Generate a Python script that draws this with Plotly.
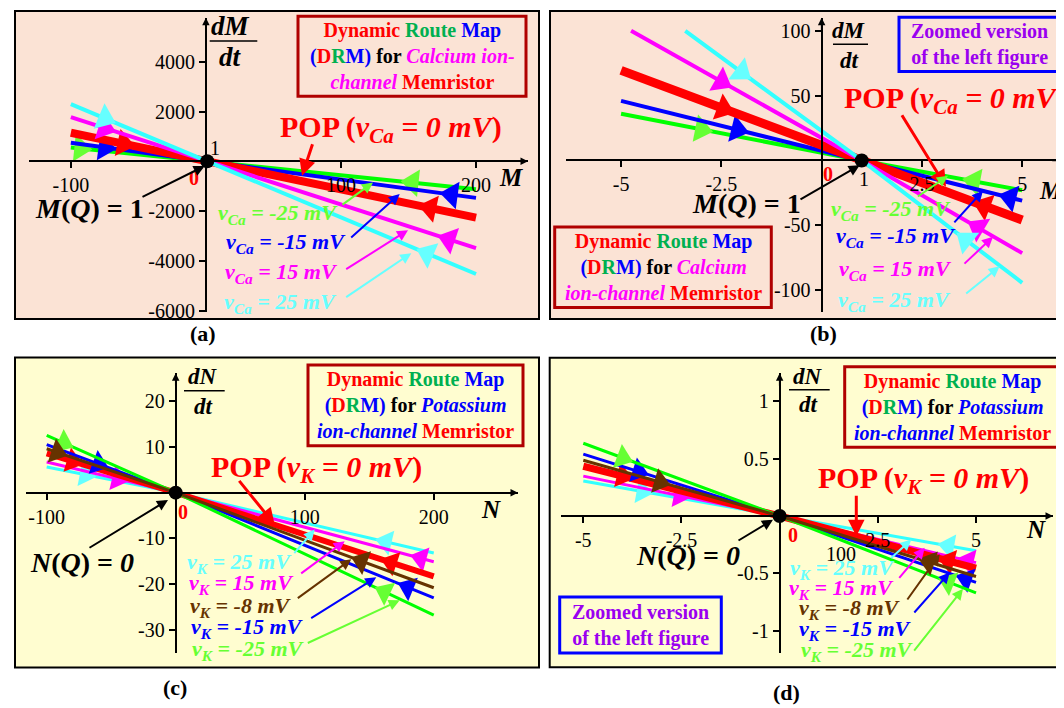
import numpy as np
import plotly.graph_objects as go

W, H = 1064, 708
def fx(px): return px / W
def fy(py): return 1 - py / H

# ------------------------- DATA -------------------------
# Panel (a): Calcium ion-channel DRM, dM/dt vs M   (order: -25, -15, 0 (POP), 15, 25 mV)
ca_names = ["v_Ca = -25 mV", "v_Ca = -15 mV", "v_Ca = 0 mV (POP)", "v_Ca = 15 mV", "v_Ca = 25 mV"]
a_M = [-100, 1, 200]
a_green = [560, 0, -1120]
a_blue = [745, 0, -1470]
a_red = [1150, 0, -2260]
a_magenta = [1780, 0, -3490]
a_cyan = [2300, 0, -4530]
a_arrow_left = [-93, -75, -61, -75, -75]
a_arrow_right = [153, 182, 166, 180, 164]

# Panel (b): zoomed version
b_green_M, b_green = [-5, 1, 5], [36, 0, -23]
b_blue_M, b_blue = [-5, 1, 5], [46, 0, -31]
b_red_M, b_red = [-5, 1, 5], [69.5, 0, -46]
b_magenta_M, b_magenta = [-4.75, 1, 5], [100, 0, -71.5]
b_cyan_M, b_cyan = [-3.4, 1, 5], [100, 0, -94.4]
b_arrow_left = [-3.0, -2.1, -2.45, -2.5, -2.0]
b_arrow_right = [3.8, 4.7, 4.05, 3.9, 3.6]

# Panel (c): Potassium ion-channel DRM, dN/dt vs N  (order: 25, 15, 0 (POP), -15, -25, -8 mV)
k_names = ["v_K = 25 mV", "v_K = 15 mV", "v_K = 0 mV (POP)", "v_K = -15 mV", "v_K = -25 mV", "v_K = -8 mV"]
c_N = [-100, 0, 200]
c_cyan = [5.6, 0, -13.2]
c_magenta = [6.7, 0, -15.1]
c_red = [8.6, 0, -18.3]
c_blue = [10.5, 0, -23.0]
c_green = [12.5, 0, -26.8]
c_brown = [9.6, 0, -20.8]
c_arrow_left = [-70, -45, -80, -60, -87, -92]
c_arrow_right = [163, 190, 167, 180, 162, 144]

# Panel (d): zoomed version
d_N = [-5, 0, 5]
d_cyan = [0.304, 0, -0.303]
d_magenta = [0.347, 0, -0.406]
d_red = [0.433, 0, -0.455]
d_blue = [0.539, 0, -0.578]
d_green = [0.633, 0, -0.67]
d_brown = [0.485, 0, -0.527]
d_arrow_left = [-3.5, -2.55, -4.0, -3.6, -4.0, -3.05]
d_arrow_right = [4.3, 4.8, 4.3, 4.75, 4.3, 3.8]

# ------------------------- STYLE -------------------------
SERIF = "Liberation Serif"
C_GREEN, C_GREEN_L = "#00FF00", "#66FF33"
C_BLUE, C_RED, C_MAG = "#0000FF", "#FF0000", "#FF00FF"
C_CYAN, C_CYAN_L = "#33FFFF", "#66FFFF"
C_BROWN = "#663300"
PEACH, YELLOW = "#FBE3D5", "#FFFDD0"
DKRED, PURPLE, DRMGREEN = "#B00000", "#9A00F0", "#00B050"

fig = go.Figure()

# panel geometry (pixels) and ranges
panels = {
    "a": dict(xa="x", ya="y", xd=(21, 520), yd=(10, 308), xr=(-131, 238.5), yr=(-6060, 5766)),
    "b": dict(xa="x2", ya="y2", xd=(557.7, 1056.7), yd=(10, 308), xr=(-6.38, 6.06), yr=(-117, 110)),
    "c": dict(xa="x3", ya="y3", xd=(18.3, 510), yd=(370, 653), xr=(-115.8, 265.3), yr=(-35.0, 26.1)),
    "d": dict(xa="x4", ya="y4", xd=(553.3, 1045), yd=(370, 653), xr=(-5.56, 6.96), yr=(-1.19, 1.242)),
}

def add_curve(p, xs, ys, color, width, mcolor, xl, xr_, dx, msize):
    P = panels[p]
    fig.add_trace(go.Scatter(x=xs, y=ys, mode="lines", line=dict(color=color, width=width),
                             xaxis=P["xa"], yaxis=P["ya"], hoverinfo="skip"))
    # direction triangles sitting on the drawn line
    mx = [xl - dx, xl, xr_ + dx, xr_]
    my = list(np.interp(mx, xs, ys))
    fig.add_trace(go.Scatter(x=mx, y=my, mode="markers",
                             marker=dict(symbol="triangle-up", size=[0, msize, 0, msize], color=mcolor,
                                         opacity=1, angleref="previous", line=dict(width=0)),
                             xaxis=P["xa"], yaxis=P["ya"], hoverinfo="skip"))

# (a)
for ys, c, w, mc, i in [(a_green, C_GREEN, 4, C_GREEN_L, 0), (a_blue, C_BLUE, 4, C_BLUE, 1),
                        (a_red, C_RED, 8, C_RED, 2), (a_magenta, C_MAG, 4, C_MAG, 3),
                        (a_cyan, C_CYAN, 4, C_CYAN_L, 4)]:
    add_curve("a", a_M, ys, c, w, mc, a_arrow_left[i], a_arrow_right[i], 5, 24)
# (b)
for xs, ys, c, w, mc, i in [(b_green_M, b_green, C_GREEN, 4, C_GREEN_L, 0), (b_blue_M, b_blue, C_BLUE, 4, C_BLUE, 1),
                            (b_red_M, b_red, C_RED, 9, C_RED, 2), (b_magenta_M, b_magenta, C_MAG, 4, C_MAG, 3),
                            (b_cyan_M, b_cyan, C_CYAN, 4, C_CYAN_L, 4)]:
    add_curve("b", xs, ys, c, w, mc, b_arrow_left[i], b_arrow_right[i], 0.15, 24)
# (c)
for ys, c, w, mc, i in [(c_cyan, C_CYAN, 3, C_CYAN_L, 0), (c_magenta, C_MAG, 3, C_MAG, 1),
                        (c_red, C_RED, 6, C_RED, 2), (c_blue, C_BLUE, 3, C_BLUE, 3),
                        (c_green, C_GREEN, 3, C_GREEN_L, 4), (c_brown, C_BROWN, 3, C_BROWN, 5)]:
    add_curve("c", c_N, ys, c, w, mc, c_arrow_left[i], c_arrow_right[i], 5, 22)
# (d)
for ys, c, w, mc, i in [(d_cyan, C_CYAN, 3, C_CYAN_L, 0), (d_magenta, C_MAG, 3, C_MAG, 1),
                        (d_red, C_RED, 7, C_RED, 2), (d_blue, C_BLUE, 3, C_BLUE, 3),
                        (d_green, C_GREEN, 3, C_GREEN_L, 4), (d_brown, C_BROWN, 3, C_BROWN, 5)]:
    add_curve("d", d_N, ys, c, w, mc, d_arrow_left[i], d_arrow_right[i], 0.15, 22)

# equilibrium points
for p, q in [("a", 1), ("b", 1), ("c", 0), ("d", 0)]:
    P = panels[p]
    fig.add_trace(go.Scatter(x=[q], y=[0], mode="markers", marker=dict(color="black", size=14),
                             xaxis=P["xa"], yaxis=P["ya"], hoverinfo="skip"))

# ------------------------- AXES -------------------------
tickvals = {
    "a": ([-100, 100, 200], [4000, 2000, -2000, -4000, -6000]),
    "b": ([-5, -2.5, 2.5, 5], [100, 50, -50, -100]),
    "c": ([-100, 100, 200], [20, 10, -10, -20, -30]),
    "d": ([-5, -2.5, 2.5, 5], [1, 0.5, -0.5, -1]),
}
layout_axes = {}
annotations = []
for p, P in panels.items():
    xd = [fx(P["xd"][0]), fx(P["xd"][1])]
    yd = [fy(P["yd"][1]), fy(P["yd"][0])]
    xr, yr = P["xr"], P["yr"]
    ypos = yd[0] + (0 - yr[0]) / (yr[1] - yr[0]) * (yd[1] - yd[0])
    xpos = xd[0] + (0 - xr[0]) / (xr[1] - xr[0]) * (xd[1] - xd[0])
    xk = "xaxis" + P["xa"][1:]
    yk = "yaxis" + P["ya"][1:]
    common = dict(showline=True, linecolor="black", linewidth=2, ticks="outside", ticklen=6,
                  tickwidth=1.5, tickcolor="black", showgrid=False, zeroline=False,
                  tickfont=dict(family=SERIF, size=20, color="black"), anchor="free", fixedrange=True)
    layout_axes[xk] = dict(domain=xd, range=list(xr), position=ypos, tickvals=tickvals[p][0],
                           ticktext=[str(v) for v in tickvals[p][0]], **common)
    layout_axes[yk] = dict(domain=yd, range=list(yr), position=xpos, tickvals=tickvals[p][1],
                           ticktext=[str(v) for v in tickvals[p][1]], **common)
    # axis arrowheads
    annotations.append(dict(x=xr[1], y=0, xref=P["xa"], yref=P["ya"], ax=-14, ay=0, text="",
                            showarrow=True, arrowhead=2, arrowsize=1, arrowwidth=1.5, arrowcolor="black"))
    annotations.append(dict(x=0, y=yr[1], xref=P["xa"], yref=P["ya"], ax=0, ay=14, text="",
                            showarrow=True, arrowhead=2, arrowsize=1, arrowwidth=1.5, arrowcolor="black"))

# ------------------------- TEXT HELPERS -------------------------
def txt(px, py, text, size, color="black", xanchor="center"):
    annotations.append(dict(x=fx(px), y=fy(py), xref="paper", yref="paper", text=text, showarrow=False,
                            xanchor=xanchor, yanchor="middle", font=dict(family=SERIF, size=size, color=color)))

def arrow(tail, head, color, width=2, size=1.1):
    annotations.append(dict(x=fx(head[0]), y=fy(head[1]), xref="paper", yref="paper",
                            ax=tail[0] - head[0], ay=tail[1] - head[1], text="", showarrow=True,
                            arrowhead=2, arrowsize=size, arrowwidth=width, arrowcolor=color, standoff=0))

def sp(c, s):
    return f'<span style="color:{c}">{s}</span>'

drm_l1 = "<b>" + sp(C_RED, "Dynamic") + " " + sp(DRMGREEN, "Route") + " " + sp(C_BLUE, "Map") + "</b>"
drm_dr = sp(C_BLUE, "(") + sp(C_RED, "D") + sp(DRMGREEN, "R") + sp(C_BLUE, "M)")

shapes = []
def rect(x0, y0, x1, y1, line, width, fill=None, layer="above"):
    shapes.append(dict(type="rect", xref="paper", yref="paper", x0=fx(x0), x1=fx(x1), y0=fy(y1), y1=fy(y0),
                       line=dict(color=line, width=width), fillcolor=fill if fill else "rgba(0,0,0,0)",
                       layer=layer))

def hline(x0, x1, y, width=1.5):
    shapes.append(dict(type="line", xref="paper", yref="paper", x0=fx(x0), x1=fx(x1), y0=fy(y), y1=fy(y),
                       line=dict(color="black", width=width)))

LAB = 22   # curve label size
POP = 30
EQ = 28
DRM = 20

# panel backgrounds
rect(7, 3, 531, 315, "black", 2, PEACH, "below")
rect(542, 3, 1063, 315, "black", 2, PEACH, "below")
rect(7, 354, 531, 668, "black", 2, YELLOW, "below")
rect(541.7, 354.3, 1063, 667.7, "black", 2, YELLOW, "below")

# ---- (a) ----
rect(290, 8.3, 518, 89.3, DKRED, 3)
txt(404, 49, drm_l1 + "<br><b>" + drm_dr + " for " + sp(C_MAG, "<i>Calcium ion-</i>") + "</b><br><b>"
    + sp(C_MAG, "<i>channel</i>") + " " + sp(C_RED, "Memristor") + "</b>", DRM)
txt(222.7, 18.3, "<b><i>dM</i></b>", 27)
txt(222.7, 50, "<b><i>dt</i></b>", 27)
hline(201.7, 249.3, 33.3)
txt(503.3, 171.7, "<b><i>M</i></b>", 25)
txt(206.7, 141.7, "1", 20)
txt(186, 172, "<b>0</b>", 20, C_RED)
txt(383, 123, "<b>POP (<i>v<sub>Ca</sub> = 0 mV</i>)</b>", POP, C_RED)
arrow((305, 137), (294, 170), C_RED, 3)
txt(81.5, 203.3, "<b><i>M</i>(<i>Q</i>) = 1</b>", EQ)
arrow((133, 191.7), (196.7, 160), "black", 2)
txt(270, 208.3, "<b><i>v<sub>Ca</sub> = -25 mV</i></b>", LAB, C_GREEN_L)
arrow((333, 200), (365, 176.7), C_GREEN_L, 2)
txt(278, 238.3, "<b><i>v<sub>Ca</sub> = -15 mV</i></b>", LAB, C_BLUE)
arrow((341.7, 233.3), (391.7, 188.3), C_BLUE, 2)
txt(273, 268.3, "<b><i>v<sub>Ca</sub> = 15 mV</i></b>", LAB, C_MAG)
arrow((336.7, 265), (400, 225), C_MAG, 2)
txt(272, 298.3, "<b><i>v<sub>Ca</sub> = 25 mV</i></b>", LAB, C_CYAN_L)
arrow((336.7, 293.3), (403.3, 248.3), C_CYAN_L, 2)
txt(195, 330, "<b>(a)</b>", 22)

# ---- (b) ----
rect(891, 9.3, 1052, 64.3, C_BLUE, 3)
txt(971.5, 37, "<b>Zoomed version<br>of the left figure</b>", 20, PURPLE)
rect(546.7, 221.7, 763.3, 303.3, DKRED, 3)
txt(655, 262.5, drm_l1 + "<br><b>" + drm_dr + " for " + sp(C_MAG, "<i>Calcium</i>") + "</b><br><b>"
    + sp(C_MAG, "<i>ion-channel</i>") + " " + sp(C_RED, "Memristor") + "</b>", DRM)
txt(841, 22.7, "<b><i>dM</i></b>", 23)
txt(841, 53.3, "<b><i>dt</i></b>", 23)
hline(825, 860, 36.7)
txt(1043, 185, "<b><i>M</i></b>", 25)
txt(856, 173.3, "1", 20)
txt(820, 168.3, "<b>0</b>", 20, C_RED)
txt(947, 93.3, "<b>POP (<i>v<sub>Ca</sub> = 0 mV</i>)</b>", POP, C_RED)
arrow((893, 108), (938, 181), C_RED, 3)
txt(738, 198.3, "<b><i>M</i>(<i>Q</i>) = 1</b>", EQ)
arrow((791, 194.3), (851.7, 159.3), "black", 2)
txt(882.5, 205, "<b><i>v<sub>Ca</sub> = -25 mV</i></b>", LAB, C_GREEN_L)
arrow((908.3, 191.7), (940, 170), C_GREEN_L, 2)
txt(887.5, 231.7, "<b><i>v<sub>Ca</sub> = -15 mV</i></b>", LAB, C_BLUE)
arrow((945, 218.3), (975, 185), C_BLUE, 2)
txt(887.5, 265, "<b><i>v<sub>Ca</sub> = 15 mV</i></b>", LAB, C_MAG)
arrow((955, 260), (985, 231.7), C_MAG, 2)
txt(886, 296.7, "<b><i>v<sub>Ca</sub> = 25 mV</i></b>", LAB, C_CYAN_L)
arrow((956.7, 290), (991.7, 261.7), C_CYAN_L, 2)
txt(815, 330, "<b>(b)</b>", 22)

# ---- (c) ----
rect(300, 361.7, 515, 443.3, DKRED, 3)
txt(407.5, 402.5, drm_l1 + "<br><b>" + drm_dr + " for " + sp(C_BLUE, "<i>Potassium</i>") + "</b><br><b>"
    + sp(C_BLUE, "<i>ion-channel</i>") + " " + sp(C_RED, "Memristor") + "</b>", DRM)
txt(195, 373.3, "<b><i>dN</i></b>", 23)
txt(195, 403.3, "<b><i>dt</i></b>", 23)
hline(176, 216.7, 387.7)
txt(483.3, 508.3, "<b><i>N</i></b>", 25)
txt(175, 510, "<b>0</b>", 20, C_RED)
txt(308, 466.7, "<b>POP (<i>v<sub>K</sub> = 0 mV</i>)</b>", POP, C_RED)
arrow((230, 478), (266.7, 523.3), C_RED, 3)
txt(74, 561.7, "<b><i>N</i>(<i>Q</i>) = <i>0</i></b>", EQ)
arrow((80, 547), (160, 498.3), "black", 2)
txt(231, 561.7, "<b><i>v<sub>K</sub> = 25 mV</i></b>", LAB, C_CYAN_L)
arrow((285, 553.3), (306.7, 528.3), C_CYAN_L, 2)
txt(233, 583.3, "<b><i>v<sub>K</sub> = 15 mV</i></b>", LAB, C_MAG)
arrow((291.7, 573.3), (336.7, 540), C_MAG, 2)
txt(233, 606.7, "<b><i>v<sub>K</sub> = -8 mV</i></b>", LAB, C_BROWN)
arrow((288.3, 598.3), (343.3, 558.3), C_BROWN, 2)
txt(239, 628.3, "<b><i>v<sub>K</sub> = -15 mV</i></b>", LAB, C_BLUE)
arrow((301.7, 618.3), (368.3, 576.7), C_BLUE, 2)
txt(240.5, 650, "<b><i>v<sub>K</sub> = -25 mV</i></b>", LAB, C_GREEN_L)
arrow((298.3, 643.3), (391.7, 600), C_GREEN_L, 2)
txt(166.7, 688.3, "<b>(c)</b>", 22)

# ---- (d) ----
rect(836.7, 363.3, 1052.3, 445, DKRED, 3)
txt(944.5, 404, drm_l1 + "<br><b>" + drm_dr + " for " + sp(C_BLUE, "<i>Potassium</i>") + "</b><br><b>"
    + sp(C_BLUE, "<i>ion-channel</i>") + " " + sp(C_RED, "Memristor") + "</b>", DRM)
rect(551.7, 596.7, 713.3, 653.3, C_BLUE, 3)
txt(632.5, 625, "<b>Zoomed version<br>of the left figure</b>", 20, PURPLE)
txt(800, 373.3, "<b><i>dN</i></b>", 23)
txt(800, 401.7, "<b><i>dt</i></b>", 23)
hline(781, 821.7, 386.7)
txt(1028.3, 528.3, "<b><i>N</i></b>", 25)
txt(785, 533.3, "<b>0</b>", 20, C_RED)
txt(832.7, 553.3, "100", 20)
txt(915, 478.3, "<b>POP (<i>v<sub>K</sub> = 0 mV</i>)</b>", POP, C_RED)
arrow((848.3, 493), (848.3, 535), C_RED, 3)
txt(680, 555, "<b><i>N</i>(<i>Q</i>) = <i>0</i></b>", EQ)
arrow((729, 540), (765, 518.3), "black", 2)
txt(834, 568.3, "<b><i>v<sub>K</sub> = 25 mV</i></b>", LAB, C_CYAN_L)
arrow((881.7, 558.3), (903.3, 538.3), C_CYAN_L, 2)
txt(833, 588.3, "<b><i>v<sub>K</sub> = 15 mV</i></b>", LAB, C_MAG)
arrow((890, 578.3), (916.7, 546.7), C_MAG, 2)
txt(841.5, 608.3, "<b><i>v<sub>K</sub> = -8 mV</i></b>", LAB, C_BROWN)
arrow((898.3, 600), (931.7, 553.3), C_BROWN, 2)
txt(847.5, 630, "<b><i>v<sub>K</sub> = -15 mV</i></b>", LAB, C_BLUE)
arrow((905, 613.3), (941.7, 571.7), C_BLUE, 2)
txt(849, 651.7, "<b><i>v<sub>K</sub> = -25 mV</i></b>", LAB, C_GREEN_L)
arrow((905, 651.7), (955, 588.3), C_GREEN_L, 2)
txt(778.3, 693.3, "<b>(d)</b>", 22)

fig.update_layout(
    width=W, height=H, margin=dict(l=0, r=0, t=0, b=0),
    paper_bgcolor="white", plot_bgcolor="rgba(0,0,0,0)",
    showlegend=False, annotations=annotations, shapes=shapes,
    font=dict(family=SERIF, color="black"),
    **layout_axes,
)
fig.write_html("out.html")
